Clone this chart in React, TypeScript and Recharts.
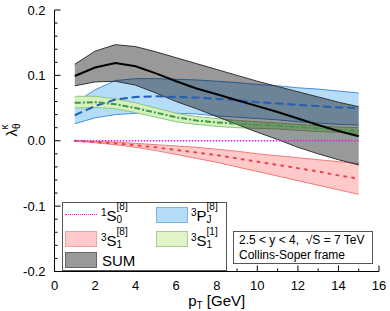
import { ComposedChart, Area, Line, XAxis, YAxis } from "recharts";

const pt = [1, 2, 3, 4, 5, 6, 7, 8, 9, 10, 11, 12, 13, 14, 15];

// SUM
const sumHi = [0.117, 0.137, 0.147, 0.144, 0.136, 0.127, 0.118, 0.109, 0.1, 0.091, 0.083, 0.075, 0.067, 0.059, 0.052];
const sumMid = [0.099, 0.112, 0.119, 0.114, 0.103, 0.091, 0.08, 0.071, 0.062, 0.053, 0.044, 0.034, 0.024, 0.015, 0.007];
const sumLo = [0.084, 0.09, 0.091, 0.085, 0.073, 0.06, 0.049, 0.037, 0.025, 0.013, 0.002, -0.01, -0.02, -0.029, -0.037];

// 3PJ[8]
const pjHi = [0.058, 0.078, 0.092, 0.095, 0.095, 0.094, 0.093, 0.091, 0.089, 0.086, 0.084, 0.081, 0.079, 0.076, 0.073];
const pjMid = [0.039, 0.053, 0.063, 0.067, 0.068, 0.067, 0.066, 0.064, 0.062, 0.059, 0.057, 0.055, 0.053, 0.051, 0.05];
const pjLo = [0.026, 0.035, 0.04, 0.042, 0.042, 0.042, 0.041, 0.038, 0.036, 0.034, 0.032, 0.029, 0.027, 0.025, 0.024];

// 3S1[1]
const s1Hi = [0.068, 0.068, 0.064, 0.058, 0.05, 0.042, 0.037, 0.034, 0.031, 0.029, 0.027, 0.025, 0.023, 0.021, 0.02];
const s1Mid = [0.058, 0.059, 0.056, 0.05, 0.043, 0.036, 0.031, 0.028, 0.026, 0.024, 0.023, 0.021, 0.019, 0.017, 0.015];
const s1Lo = [0.05, 0.051, 0.049, 0.043, 0.036, 0.029, 0.025, 0.022, 0.02, 0.019, 0.018, 0.016, 0.014, 0.013, 0.011];

// 3S1[8]
const s8Hi = [0, -0.001, -0.002, -0.004, -0.006, -0.008, -0.01, -0.013, -0.016, -0.02, -0.023, -0.026, -0.029, -0.032, -0.035];
const s8Mid = [0, -0.002, -0.004, -0.007, -0.01, -0.014, -0.018, -0.022, -0.027, -0.032, -0.037, -0.042, -0.047, -0.053, -0.058];
const s8Lo = [0, -0.003, -0.006, -0.01, -0.015, -0.021, -0.027, -0.033, -0.04, -0.047, -0.054, -0.061, -0.068, -0.075, -0.082];

// 1S0[8]
const s0Mid = [0, 0, 0, 0, 0, 0, 0, 0, 0, 0, 0, 0, 0, 0, 0];

const xTicks = [0, 1, 2, 3, 4, 5, 6, 7, 8, 9, 10, 11, 12, 13, 14, 15, 16];
const yTicks = [-20, -18, -16, -14, -12, -10, -8, -6, -4, -2, 0, 2, 4, 6, 8, 10, 12, 14, 16, 18, 20].map((v) => v / 100);

const data = pt.map((x, i) => ({
  pt: x,
  sum: [sumLo[i], sumHi[i]],
  sumMid: sumMid[i],
  pj: [pjLo[i], pjHi[i]],
  pjMid: pjMid[i],
  s1: [s1Lo[i], s1Hi[i]],
  s1Mid: s1Mid[i],
  s8: [s8Lo[i], s8Hi[i]],
  s8Mid: s8Mid[i],
  s0Mid: s0Mid[i],
}));

const FONT = "'Liberation Sans', Arial, sans-serif";

function Tick(props: any) {
  const { x, y, payload, side } = props;
  const v = payload.value;
  const horiz = side === "bottom" || side === "top";
  const major = horiz ? v % 2 === 0 : Math.round(v * 100) % 10 === 0;
  const len = major ? 6 : 3;
  let line;
  if (side === "left") line = <line x1={x} y1={y} x2={x + len} y2={y} stroke="#000" />;
  else if (side === "right") line = <line x1={x} y1={y} x2={x - len} y2={y} stroke="#000" />;
  else if (side === "top") line = <line x1={x} y1={y} x2={x} y2={y + len} stroke="#000" />;
  else line = <line x1={x} y1={y} x2={x} y2={y - len} stroke="#000" />;
  let label = null;
  if (major && side === "left")
    label = (
      <text x={x - 9} y={y} dy="0.35em" textAnchor="end" fontSize={13} fontFamily={FONT} fill="#000">
        {v.toFixed(1)}
      </text>
    );
  if (major && side === "bottom")
    label = (
      <text x={x} y={y + 14} dy="0.35em" textAnchor="middle" fontSize={13} fontFamily={FONT} fill="#000">
        {v}
      </text>
    );
  return (
    <g>
      {line}
      {label}
    </g>
  );
}

const legendRow = { position: "absolute" as const, fontSize: 15, fontFamily: FONT, lineHeight: "15px" };
const small = { fontSize: 10, lineHeight: "10px" };

function Swatch({ left, top, fill, border }: any) {
  return (
    <div
      style={{
        position: "absolute",
        left,
        top,
        width: 32,
        height: 16,
        background: fill,
        border: `1px solid ${border}`,
        boxSizing: "border-box",
      }}
    />
  );
}

function Sym({ pre, letter, low, high }: any) {
  return (
    <span style={{ display: "inline-block", position: "relative", height: 15 }}>
      <span style={{ ...small, position: "relative", top: -5 }}>{pre}</span>
      {letter}
      <span style={{ display: "inline-block", position: "relative", width: 16, height: 15 }}>
        <span style={{ ...small, position: "absolute", left: 0, top: -4 }}>{high}</span>
        <span style={{ ...small, position: "absolute", left: 0, top: 9 }}>{low}</span>
      </span>
    </span>
  );
}

export default function App() {
  return (
    <div style={{ position: "absolute", left: 0, top: 0, width: 390, height: 311, background: "#fff" }}>
      <ComposedChart width={390} height={311} data={data} margin={{ top: 10, right: 11, bottom: 0, left: 0 }}>
        <XAxis
          dataKey="pt"
          type="number"
          domain={[0, 16]}
          ticks={xTicks}
          interval={0}
          tickSize={0}
          tickMargin={0}
          tickLine={false}
          height={39.5}
          stroke="#000"
          tick={<Tick side="bottom" />}
          label={{
            content: (p: any) => {
              const vb = p.viewBox;
              return (
                <text x={vb.x + vb.width / 2} y={vb.y + 34} textAnchor="middle" fontSize={15} fontFamily={FONT} fill="#000">
                  p<tspan fontSize={10} dy={3}>T</tspan>
                  <tspan dy={-3}> [GeV]</tspan>
                </text>
              );
            },
          }}
        />
        <XAxis
          xAxisId="top"
          orientation="top"
          type="number"
          domain={[0, 16]}
          ticks={xTicks}
          interval={0}
          tickSize={0}
          tickMargin={0}
          tickLine={false}
          height={0}
          stroke="#000"
          tick={<Tick side="top" />}
        />
        <YAxis
          type="number"
          domain={[-0.2, 0.2]}
          ticks={yTicks}
          interval={0}
          allowDataOverflow
          tickSize={0}
          tickMargin={0}
          tickLine={false}
          width={54.5}
          stroke="#000"
          tick={<Tick side="left" />}
          label={{
            content: (p: any) => {
              const vb = p.viewBox;
              const cx = vb.x + 17;
              const cy = 130;
              return (
                <text
                  x={cx}
                  y={cy}
                  transform={`rotate(-90, ${cx}, ${cy})`}
                  textAnchor="middle"
                  fontSize={15}
                  fontFamily={FONT}
                  fill="#000"
                >
                  λ<tspan fontSize={10} dy={3}>θ</tspan>
                  <tspan fontSize={10} dx={-6} dy={-12}>κ</tspan>
                </text>
              );
            },
          }}
        />
        <YAxis
          yAxisId="right"
          orientation="right"
          type="number"
          domain={[-0.2, 0.2]}
          ticks={yTicks}
          interval={0}
          allowDataOverflow
          tickSize={0}
          tickMargin={0}
          tickLine={false}
          width={0}
          stroke="#000"
          tick={<Tick side="right" />}
        />

        <Area
          type="linear"
          dataKey="s8"
          fill="#ffc9c9"
          fillOpacity={1}
          stroke="#f27a7a"
          strokeWidth={1}
          isAnimationActive={false}
          activeDot={false}
        />
        <Line
          type="linear"
          dataKey="s8Mid"
          stroke="#e8434a"
          strokeWidth={2}
          strokeDasharray="2 6"
          strokeLinecap="round"
          dot={false}
          isAnimationActive={false}
        />
        <Area
          type="linear"
          dataKey="pj"
          fill="#b5ddf8"
          fillOpacity={1}
          stroke="#4a8fdc"
          strokeWidth={1}
          isAnimationActive={false}
          activeDot={false}
        />
        <Line
          type="linear"
          dataKey="pjMid"
          stroke="#1f5fb4"
          strokeWidth={2}
          strokeDasharray="8 4"
          dot={false}
          isAnimationActive={false}
        />
        <Area
          type="linear"
          dataKey="s1"
          fill="#d6f0c0"
          fillOpacity={1}
          stroke="#8cc97e"
          strokeWidth={1}
          isAnimationActive={false}
          activeDot={false}
        />
        <Line
          type="linear"
          dataKey="s1Mid"
          stroke="#3b9a4a"
          strokeWidth={2}
          strokeDasharray="6 2 2 2"
          dot={false}
          isAnimationActive={false}
        />
        <Line
          type="linear"
          dataKey="s0Mid"
          stroke="#e01ee0"
          strokeWidth={1.5}
          strokeDasharray="1.5 1.5"
          dot={false}
          isAnimationActive={false}
        />
        <Area
          type="linear"
          dataKey="sum"
          fill="#000"
          fillOpacity={0.4}
          stroke="#333"
          strokeWidth={1}
          isAnimationActive={false}
          activeDot={false}
        />
        <Line
          type="linear"
          dataKey="sumMid"
          stroke="#000"
          strokeWidth={2}
          dot={false}
          isAnimationActive={false}
        />
      </ComposedChart>

      {/* legend */}
      <div
        style={{
          position: "absolute",
          left: 62,
          top: 202,
          width: 165,
          height: 69,
          border: "1px solid #555",
          boxSizing: "border-box",
          background: "#fff",
        }}
      />
      <div style={{ position: "absolute", left: 65, top: 214, width: 32, borderTop: "1.5px dotted #e01ee0" }} />
      <div style={{ ...legendRow, left: 101, top: 206 }}>
        <Sym pre="1" letter="S" low="0" high="[8]" />
      </div>
      <Swatch left={156} top={207} fill="#b5ddf8" border="#7fb3e0" />
      <div style={{ ...legendRow, left: 191, top: 206 }}>
        <Sym pre="3" letter="P" low="J" high="[8]" />
      </div>
      <Swatch left={65} top={231} fill="#ffc9c9" border="#f0a0a0" />
      <div style={{ ...legendRow, left: 101, top: 231 }}>
        <Sym pre="3" letter="S" low="1" high="[8]" />
      </div>
      <Swatch left={156} top={231} fill="#e0f4c8" border="#a8cf90" />
      <div style={{ ...legendRow, left: 191, top: 231 }}>
        <Sym pre="3" letter="S" low="1" high="[1]" />
      </div>
      <Swatch left={65} top={252} fill="#999" border="#666" />
      <div style={{ ...legendRow, left: 102, top: 253 }}>SUM</div>

      {/* kinematics box */}
      <div
        style={{
          position: "absolute",
          left: 233,
          top: 231,
          width: 140,
          height: 33,
          border: "1px solid #555",
          boxSizing: "border-box",
          background: "#fff",
          fontFamily: FONT,
          fontSize: 12,
          lineHeight: "15px",
          padding: "1px 0 0 5px",
          whiteSpace: "pre",
        }}
      >
        <div>{"2.5 < y < 4,  \u221AS = 7 TeV"}</div>
        <div>Collins-Soper frame</div>
      </div>
    </div>
  );
}
